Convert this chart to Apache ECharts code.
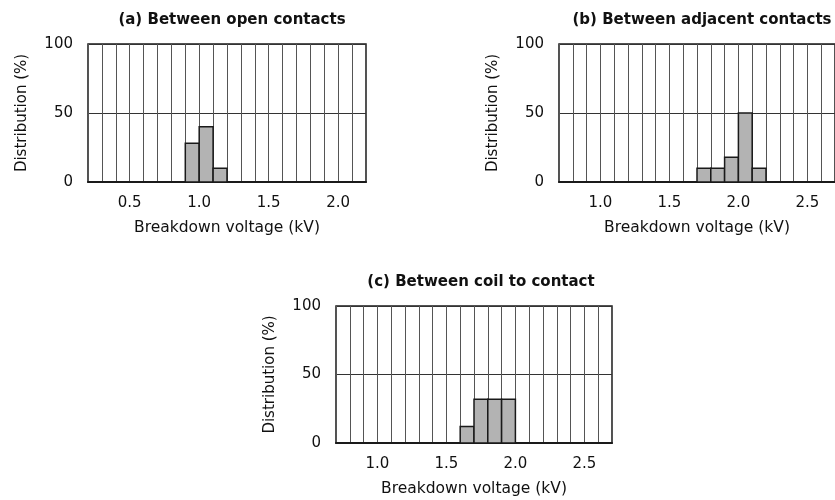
<!DOCTYPE html>
<html>
<head>
<meta charset="utf-8">
<script src="https://cdn.jsdelivr.net/npm/echarts@6/dist/echarts.min.js"></script>
<style>
  html, body { margin: 0; padding: 0; background: #fff; }
  #main { width: 835px; height: 500px; }
</style>
</head>
<body>
<div id="main"></div>
<script>
// breakdown voltage histograms, bins are 0.1 kV wide, values in %
const binWidth = 0.1;
const binsA = [0.9, 1.0, 1.1];
const valuesA = [28, 40, 10];
const binsB = [1.7, 1.8, 1.9, 2.0, 2.1];
const valuesB = [10, 10, 18, 50, 10];
const binsC = [1.6, 1.7, 1.8, 1.9];
const valuesC = [12, 32, 32, 32];

const titles = ['(a) Between open contacts', '(b) Between adjacent contacts', '(c) Between coil to contact'];
const xRanges = [[0.2, 2.2], [0.7, 2.7], [0.7, 2.7]];
const yTicks = [0, 50, 100];
const xName = 'Breakdown voltage (kV)';
const yName = 'Distribution (%)';

const font = '"DejaVu Sans", sans-serif';
const textColor = '#111';

const grids = [
    { left: 88, top: 44, width: 278, height: 138 },
    { left: 559, top: 44, width: 279, height: 138 },
    { left: 336, top: 306, width: 276, height: 137 }
];
const titlePos = [[227, 8], [697, 8], [476, 270]];

function tickLabel(v) {
    let t = Math.round(v * 10);
    return t % 5 === 0 ? (t / 10).toFixed(1) : '';
}

function renderBin(params, api) {
    let start = api.value(0);
    let h = api.value(1);
    let p0 = api.coord([start, h]);
    let p1 = api.coord([start + binWidth, 0]);
    return {
        type: 'rect',
        shape: { x: p0[0], y: p0[1], width: p1[0] - p0[0], height: p1[1] - p0[1] },
        style: { fill: '#b3b3b3', stroke: '#1a1a1a', lineWidth: 1.5 }
    };
}

const allBins = [binsA, binsB, binsC];
const allValues = [valuesA, valuesB, valuesC];

let chart = echarts.init(document.getElementById('main'));
chart.setOption({
    animation: false,
    textStyle: { fontFamily: font },
    title: titles.map((t, i) => ({
        text: t,
        left: titlePos[i][0],
        top: titlePos[i][1],
        textAlign: 'center',
        textStyle: { fontFamily: font, fontSize: 15, fontWeight: 'bold', color: textColor }
    })),
    grid: grids.map(g => Object.assign({ show: true, borderColor: '#1a1a1a', borderWidth: 1.5, backgroundColor: '#fff' }, g)),
    xAxis: xRanges.map((r, i) => ({
        type: 'value',
        gridIndex: i,
        min: r[0],
        max: r[1],
        interval: 0.1,
        name: xName,
        nameLocation: 'middle',
        nameGap: 38,
        nameTextStyle: { fontFamily: font, fontSize: 15.5, color: textColor },
        axisLine: { show: true, lineStyle: { color: '#1a1a1a', width: 2 } },
        axisTick: { show: false },
        axisLabel: { formatter: tickLabel, fontSize: 15, color: textColor, margin: 14, showMinLabel: false, showMaxLabel: false },
        splitLine: { show: true, lineStyle: { color: '#555', width: 1 } }
    })),
    yAxis: grids.map((g, i) => ({
        type: 'value',
        gridIndex: i,
        min: yTicks[0],
        max: yTicks[yTicks.length - 1],
        interval: 50,
        name: yName,
        nameLocation: 'middle',
        nameGap: 58,
        nameTextStyle: { fontFamily: font, fontSize: 15, color: textColor },
        axisLine: { show: false },
        axisTick: { show: false },
        axisLabel: { fontSize: 15, color: textColor, margin: 15 },
        splitLine: { show: true, lineStyle: { color: '#333', width: 1 } }
    })),
    series: allBins.map((bins, i) => ({
        type: 'custom',
        xAxisIndex: i,
        yAxisIndex: i,
        renderItem: renderBin,
        encode: { x: 0, y: 1 },
        data: bins.map((b, j) => [b, allValues[i][j]])
    }))
});
</script>
</body>
</html>
